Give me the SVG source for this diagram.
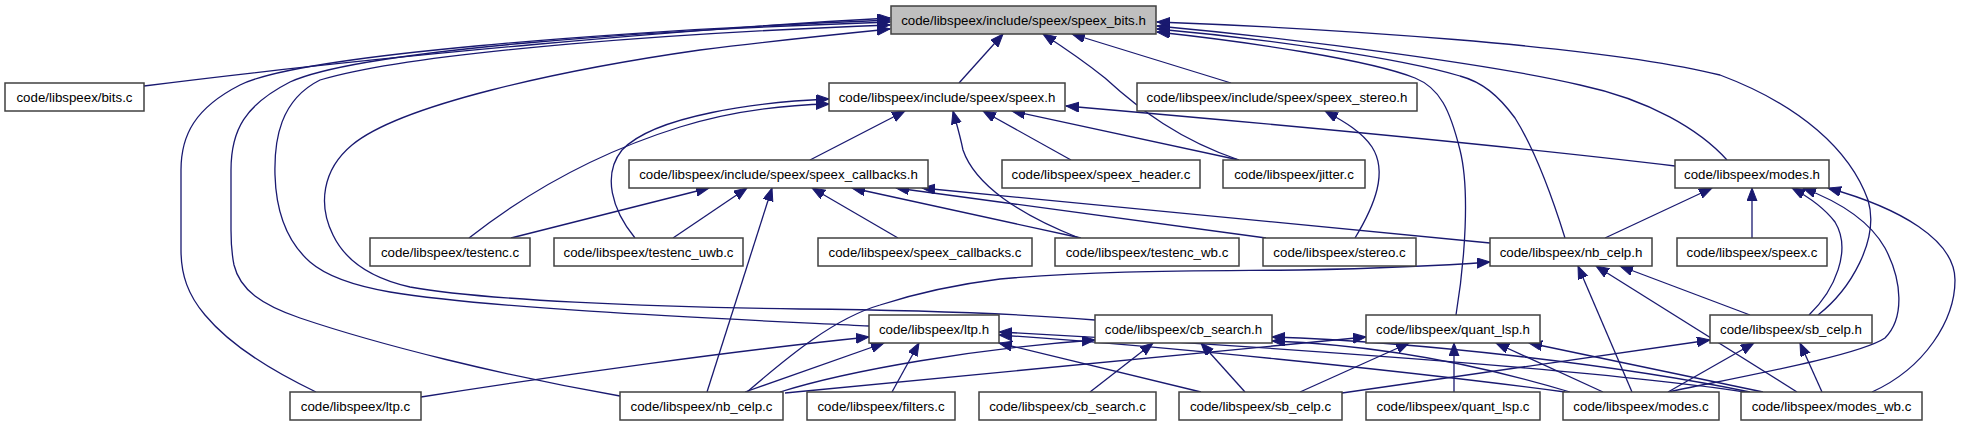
<svg xmlns="http://www.w3.org/2000/svg" width="1961" height="427" viewBox="0 0 1961 427">
<style>
.n rect{fill:#fff;stroke:#404040;stroke-width:1.5}
.n.root rect{fill:#bfbfbf}
.n text{font-family:"Liberation Sans",Arial,sans-serif;font-size:13.3px;fill:#000;text-anchor:middle}
.e path{fill:none;stroke:#191970;stroke-width:1.3;marker-end:url(#ah)}
</style>
<defs>
<marker id="ah" markerUnits="userSpaceOnUse" markerWidth="14" markerHeight="11" refX="13" refY="5" orient="auto" viewBox="0 0 14 11">
<path d="M0,0 L13,5 L0,10 z" fill="#191970" stroke="#191970" stroke-width="1"/>
</marker>
</defs>
<rect width="1961" height="427" fill="#fff"/>
<g id="edges" class="e">
<path d="M144,86 C380,56 700,28 890,18"/>
<path d="M316,392 C270,370 230,345 205,315 C188,295 181,275 181,250 L181,170 C181,135 195,108 240,85 C300,55 600,32 890,20"/>
<path d="M620,396 C500,375 380,345 300,318 C262,305 240,290 234,265 C231,250 231,240 231,230 L231,170 C231,130 245,105 290,82 C360,50 650,30 890,22"/>
<path d="M869,326 C750,320 500,310 390,292 C350,285 325,275 310,262 C285,240 276,210 275,175 C274,140 280,100 320,80 C420,50 700,32 890,25"/>
<path d="M1095,320 C1000,312 900,310 800,309 C650,307 480,300 410,287 C370,278 345,260 333,235 C318,205 322,170 352,145 C400,105 560,70 700,50 C780,40 850,33 890,29"/>
<path d="M959,83 L1003,34"/>
<path d="M1239,160 C1180,140 1140,110 1105,78 C1080,58 1060,45 1043,34"/>
<path d="M1231,83 L1072,34"/>
<path d="M1456,315 C1465,260 1470,190 1460,150 C1450,110 1440,88 1415,78 C1370,60 1250,42 1157,32"/>
<path d="M1565,238 C1550,190 1535,150 1515,118 C1498,95 1482,82 1460,76 C1400,58 1260,38 1157,29"/>
<path d="M1727,160 C1700,130 1650,100 1580,85 C1500,66 1310,40 1157,26"/>
<path d="M1818,315 C1850,290 1880,240 1868,200 C1850,150 1800,105 1720,75 C1600,45 1320,28 1157,22"/>
<path d="M469,238 C530,190 600,152 680,127 C735,110 785,105 829,104"/>
<path d="M635,238 C612,210 602,175 622,150 C655,115 760,102 829,99"/>
<path d="M810,160 L905,111"/>
<path d="M1079,238 C1020,215 975,185 963,150 C960,135 956,122 953,111"/>
<path d="M1071,160 L983,111"/>
<path d="M1239,160 L1012,111"/>
<path d="M1675,166 C1500,145 1250,122 1066,106"/>
<path d="M1355,238 C1375,205 1388,172 1372,147 C1362,132 1345,122 1325,111"/>
<path d="M511,238 L709,188"/>
<path d="M673,238 L747,188"/>
<path d="M707,392 L772,188"/>
<path d="M898,238 L812,188"/>
<path d="M1081,238 L852,188"/>
<path d="M1266,238 L896,188"/>
<path d="M1490,243 L922,188"/>
<path d="M1605,238 L1712,188"/>
<path d="M1752,238 L1752,188"/>
<path d="M1809,315 C1835,290 1852,250 1835,222 C1822,205 1805,195 1792,188"/>
<path d="M1668,392 C1750,375 1860,355 1885,338 C1905,318 1902,280 1885,248 C1868,218 1835,200 1803,188"/>
<path d="M1872,392 C1925,368 1955,320 1955,280 C1955,240 1900,208 1828,188"/>
<path d="M747,392 C790,355 835,318 880,305 C920,292 960,284 1000,279 C1100,270 1200,271 1300,270 C1400,268 1450,265 1490,262"/>
<path d="M1632,392 L1578,266"/>
<path d="M1797,392 L1596,266"/>
<path d="M1750,315 L1620,266"/>
<path d="M421,397 C560,375 740,350 869,337"/>
<path d="M745,392 L884,343"/>
<path d="M892,392 L919,343"/>
<path d="M1201,392 L999,343"/>
<path d="M1565,392 C1400,370 1150,345 999,335"/>
<path d="M1745,392 C1600,370 1250,345 999,332"/>
<path d="M780,392 C850,370 980,348 1095,340"/>
<path d="M1090,392 L1153,343"/>
<path d="M1245,392 L1201,343"/>
<path d="M1570,392 C1480,365 1380,345 1272,341"/>
<path d="M1750,392 C1620,365 1420,342 1272,337"/>
<path d="M785,393 L1366,337"/>
<path d="M1300,392 L1409,343"/>
<path d="M1454,392 L1454,343"/>
<path d="M1603,392 L1496,343"/>
<path d="M1763,392 L1529,343"/>
<path d="M1342,393 L1710,340"/>
<path d="M1668,392 L1754,343"/>
<path d="M1822,392 L1800,343"/>
</g>
<g id="speex_bits_h" class="n root"><rect x="891" y="6" width="265" height="28"/><text x="1023.5" y="25">code/libspeex/include/speex/speex_bits.h</text></g>
<g id="bits_c" class="n"><rect x="5" y="83" width="139" height="28"/><text x="74.5" y="102">code/libspeex/bits.c</text></g>
<g id="speex_h" class="n"><rect x="829" y="83" width="236" height="28"/><text x="947" y="102">code/libspeex/include/speex/speex.h</text></g>
<g id="speex_stereo_h" class="n"><rect x="1137" y="83" width="280" height="28"/><text x="1277" y="102">code/libspeex/include/speex/speex_stereo.h</text></g>
<g id="speex_callbacks_h" class="n"><rect x="629" y="160" width="299" height="28"/><text x="778.5" y="179">code/libspeex/include/speex/speex_callbacks.h</text></g>
<g id="speex_header_c" class="n"><rect x="1002" y="160" width="198" height="28"/><text x="1101" y="179">code/libspeex/speex_header.c</text></g>
<g id="jitter_c" class="n"><rect x="1223" y="160" width="142" height="28"/><text x="1294" y="179">code/libspeex/jitter.c</text></g>
<g id="modes_h" class="n"><rect x="1675" y="160" width="154" height="28"/><text x="1752" y="179">code/libspeex/modes.h</text></g>
<g id="testenc_c" class="n"><rect x="370" y="238" width="160" height="28"/><text x="450" y="257">code/libspeex/testenc.c</text></g>
<g id="testenc_uwb_c" class="n"><rect x="554" y="238" width="189" height="28"/><text x="648.5" y="257">code/libspeex/testenc_uwb.c</text></g>
<g id="speex_callbacks_c" class="n"><rect x="818" y="238" width="214" height="28"/><text x="925" y="257">code/libspeex/speex_callbacks.c</text></g>
<g id="testenc_wb_c" class="n"><rect x="1055" y="238" width="184" height="28"/><text x="1147" y="257">code/libspeex/testenc_wb.c</text></g>
<g id="stereo_c" class="n"><rect x="1263" y="238" width="153" height="28"/><text x="1339.5" y="257">code/libspeex/stereo.c</text></g>
<g id="nb_celp_h" class="n"><rect x="1490" y="238" width="162" height="28"/><text x="1571" y="257">code/libspeex/nb_celp.h</text></g>
<g id="speex_c" class="n"><rect x="1677" y="238" width="150" height="28"/><text x="1752" y="257">code/libspeex/speex.c</text></g>
<g id="ltp_h" class="n"><rect x="869" y="315" width="130" height="28"/><text x="934" y="334">code/libspeex/ltp.h</text></g>
<g id="cb_search_h" class="n"><rect x="1095" y="315" width="177" height="28"/><text x="1183.5" y="334">code/libspeex/cb_search.h</text></g>
<g id="quant_lsp_h" class="n"><rect x="1366" y="315" width="174" height="28"/><text x="1453" y="334">code/libspeex/quant_lsp.h</text></g>
<g id="sb_celp_h" class="n"><rect x="1710" y="315" width="162" height="28"/><text x="1791" y="334">code/libspeex/sb_celp.h</text></g>
<g id="ltp_c" class="n"><rect x="290" y="392" width="131" height="28"/><text x="355.5" y="411">code/libspeex/ltp.c</text></g>
<g id="nb_celp_c" class="n"><rect x="620" y="392" width="163" height="28"/><text x="701.5" y="411">code/libspeex/nb_celp.c</text></g>
<g id="filters_c" class="n"><rect x="807" y="392" width="148" height="28"/><text x="881" y="411">code/libspeex/filters.c</text></g>
<g id="cb_search_c" class="n"><rect x="979" y="392" width="177" height="28"/><text x="1067.5" y="411">code/libspeex/cb_search.c</text></g>
<g id="sb_celp_c" class="n"><rect x="1179" y="392" width="163" height="28"/><text x="1260.5" y="411">code/libspeex/sb_celp.c</text></g>
<g id="quant_lsp_c" class="n"><rect x="1366" y="392" width="174" height="28"/><text x="1453" y="411">code/libspeex/quant_lsp.c</text></g>
<g id="modes_c" class="n"><rect x="1563" y="392" width="156" height="28"/><text x="1641" y="411">code/libspeex/modes.c</text></g>
<g id="modes_wb_c" class="n"><rect x="1741" y="392" width="181" height="28"/><text x="1831.5" y="411">code/libspeex/modes_wb.c</text></g>
</svg>
